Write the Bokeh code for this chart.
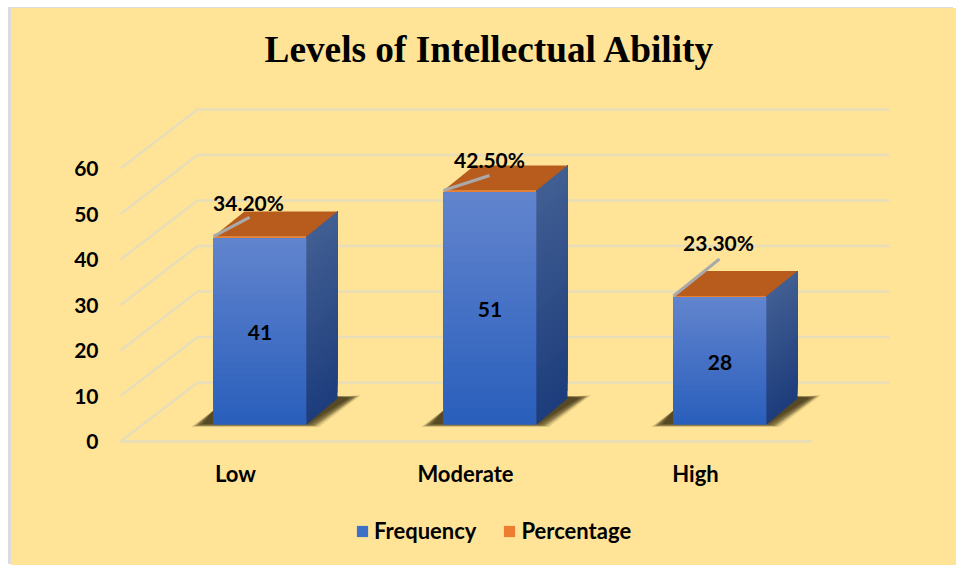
from bokeh.plotting import figure
from bokeh.embed import file_html
from bokeh.resources import INLINE
from bokeh.models import Range1d, FixedTicker, Legend, LegendItem, ColumnDataSource
from bokeh.core.properties import value

# ---- data ----
categories = ["Low", "Moderate", "High"]
frequency = [41, 51, 28]
percentage = [34.2, 42.5, 23.3]
percentage_labels = ["34.20%", "42.50%", "23.30%"]
y_ticks = [0, 10, 20, 30, 40, 50, 60]

# ---- layout (pixels on the page) ----
PX_PER_X = 230.0
PX_PER_Y = 4.55
LEFT_PX, ZERO_PX = 120.0, 441.0
FRAME_L, FRAME_R, FRAME_T, FRAME_B = 98, 890, 85, 562
PAGE_L, PAGE_T = 8, 7
BORDER_L, BORDER_T = 3, 1
FIG_W, FIG_H = 956 - PAGE_L - BORDER_L, 565 - PAGE_T - BORDER_T
WALL_DX, WALL_DY = 77, 59
BAR_SHIFT_PX = 24.5
BAR_BASE_PX = 424.0
BAR_W_PX = 93.0
DEPTH_DX, DEPTH_DY = 31, 25
CATEGORY_AXIS_PX = 486
FONT = value("Lato")
TEXT = "#000000"
BG = "#FFE497"
GRID = "#E6DDBB"

def dx(px):
    return px / PX_PER_X
def dy(px):
    return px / PX_PER_Y
def X(px):
    return -0.5 + (px - LEFT_PX) / PX_PER_X
def Y(py):
    return (ZERO_PX - py) / PX_PER_Y
def mix(a, b, t):
    ca = [int(a[i:i + 2], 16) for i in (1, 3, 5)]
    cb = [int(b[i:i + 2], 16) for i in (1, 3, 5)]
    return "#%02x%02x%02x" % tuple(round(u + (v - u) * t) for u, v in zip(ca, cb))

p = figure(
    width=FIG_W, height=FIG_H, output_backend="svg", toolbar_location=None,
    x_axis_location="above",
    x_range=Range1d(X(FRAME_L), X(FRAME_R)), y_range=Range1d(Y(FRAME_B), Y(FRAME_T)),
    min_border_left=FRAME_L - PAGE_L - BORDER_L, min_border_right=956 - FRAME_R,
    min_border_top=FRAME_T - PAGE_T - BORDER_T, min_border_bottom=565 - FRAME_B,
    background_fill_color=None, border_fill_color=None, outline_line_color=None,
)
p.styles = {
    "background": BG,
    "margin-left": f"{PAGE_L}px",
    "margin-top": f"{PAGE_T}px",
    "border-left": f"{BORDER_L}px solid #DCDCDC",
    "border-top": f"{BORDER_T}px solid #DCDCDC",
    "box-shadow": f"{BORDER_L}px {BORDER_T}px 0 {BG}",
}
p.grid.visible = False

# Title
p.title.text = "Levels of Intellectual Ability"
p.title.text_font = "Liberation Serif"
p.title.text_font_style = "bold"
p.title.text_font_size = "37.3px"
p.title.text_color = "#000000"
p.title.align = "left"
p.title.offset = 166
p.title.standoff = 31

# Axes
ya = p.yaxis[0]
ya.ticker = FixedTicker(ticks=y_ticks)
ya.axis_line_color = None
ya.major_tick_line_color = None
ya.minor_tick_line_color = None
ya.major_tick_out = 0
ya.major_tick_in = 0
ya.major_label_standoff = 0
ya.major_label_text_font = "Lato"
ya.major_label_text_font_style = "bold"
ya.major_label_text_font_size = "21px"
ya.major_label_text_color = TEXT

xa = p.xaxis[0]
xa.ticker = FixedTicker(ticks=list(range(len(categories))))
xa.major_label_overrides = {i: c for i, c in enumerate(categories)}
xa.fixed_location = Y(CATEGORY_AXIS_PX)
xa.axis_line_color = None
xa.major_tick_line_color = None
xa.minor_tick_line_color = None
xa.major_tick_out = 0
xa.major_tick_in = 0
xa.major_label_standoff = 0
xa.major_label_text_font = "Lato"
xa.major_label_text_font_style = "bold"
xa.major_label_text_font_size = "22px"
xa.major_label_text_color = TEXT

# 3-D walls and floor
x0, x1 = -0.5, len(categories) - 0.5
for t in y_ticks:
    p.line([x0, x0 + dx(WALL_DX), X(889)], [t, t + dy(WALL_DY), t + dy(WALL_DY)],
           line_color=GRID, line_width=2.5, line_alpha=0.95)
p.line([x0, x1 + dx(2)], [0, 0], line_color=GRID, line_width=2.5)

base = Y(BAR_BASE_PX)
centers = [i + dx(BAR_SHIFT_PX) for i in range(len(categories))]
half = dx(BAR_W_PX / 2)
ddx, ddy = dx(DEPTH_DX), dy(DEPTH_DY)
tops = [base + f + q / 100 for f, q in zip(frequency, percentage)]
shoulders = [base + f for f in frequency]

# floor shadows: nested, growing darker towards the bar
for c in centers:
    l, r = c - half, c + half
    for grow, alpha in ((6, 0.08), (4.5, 0.10), (3, 0.14), (1.5, 0.20), (0, 0.28), (-3, 0.30), (-6, 0.30)):
        xs = [l - dx(17 + grow), l, r + ddx, r + ddx + dx(18 + grow), r + dx(7 + grow)]
        ys = [base - dy(1 + grow / 4), base + dy(14), base + dy(28), base + dy(28 + grow / 4), base - dy(1 + grow / 4)]
        p.patch(xs, ys, fill_color="#2E2508", fill_alpha=alpha, line_color=None)

# solid series bars (also the legend's glyphs)
freq_src = ColumnDataSource(dict(x=centers, bottom=[base] * 3, top=shoulders))
pct_src = ColumnDataSource(dict(x=centers, bottom=shoulders, top=tops))
freq_bar = p.vbar(x="x", bottom="bottom", top="top", width=2 * half, source=freq_src,
                  fill_color="#3F6FC7", line_color=None)
pct_bar = p.vbar(x="x", bottom="bottom", top="top", width=2 * half, source=pct_src,
                 fill_color="#ED7D31", line_color=None)

N = 30
FRONT_TOP, FRONT_BOTTOM = "#6385CE", "#2A5FBC"
SIDE_TOP, SIDE_BOTTOM = "#425F93", "#1D3D7C"
for c, s, tp in zip(centers, shoulders, tops):
    l, r = c - half, c + half
    h = s - base
    # gradient of the front and side faces: painted bottom to top, each band reaching the top
    for k in range(N):
        t = k / N
        yb = base + h * t
        col = mix(FRONT_BOTTOM, FRONT_TOP, t)
        p.quad(left=[l], right=[r], bottom=[yb], top=[s], fill_color=col, line_color=None)
        side = mix(SIDE_BOTTOM, SIDE_TOP, t)
        extra = dy(1.0) * (1 - t)
        p.patch([r, r + ddx, r + ddx, r], [yb, yb + ddy + extra, tp + ddy, tp],
                fill_color=side, line_color=None)
    # top face
    p.patch([l, l + ddx, r + ddx, r], [tp, tp + ddy, tp + ddy, tp],
            fill_color="#B85C1E", line_color=None)

# data labels
p.text(x=centers, y=[base + f / 2 - dy(1.5) for f in frequency],
       text=[str(f) for f in frequency], text_align="center", text_baseline="middle",
       text_font=FONT, text_font_style="bold", text_font_size="21px", text_color=TEXT)

LEADER = [(36, 19), (46, 15), (46, 37)]
LABEL = [(35, 34), (46, 31), (45, 54)]
for c, tp, s, (ldx, ldy), (tdx, tdy) in zip(centers, tops, percentage_labels, LEADER, LABEL):
    l = c - half
    p.line([l, l + dx(ldx)], [tp, tp + dy(ldy)], line_color="#A9A9A9", line_width=3)
    p.text(x=[l + dx(tdx)], y=[tp + dy(tdy)], text=[s], text_align="center", text_baseline="middle",
           text_font=FONT, text_font_style="bold", text_font_size="21px", text_color=TEXT)

# Legend
legend = Legend(
    items=[LegendItem(label="Frequency", renderers=[freq_bar]),
           LegendItem(label="Percentage", renderers=[pct_bar])],
    orientation="horizontal", location=(257, 18),
    background_fill_alpha=0, border_line_color=None,
    label_text_font="Lato", label_text_font_style="bold", label_text_font_size="22px",
    label_text_color=TEXT, glyph_width=14, glyph_height=14, spacing=26, label_standoff=5,
    margin=0, padding=0,
)
p.add_layout(legend, "center")

open("out.html", "w").write(file_html(p, INLINE))
